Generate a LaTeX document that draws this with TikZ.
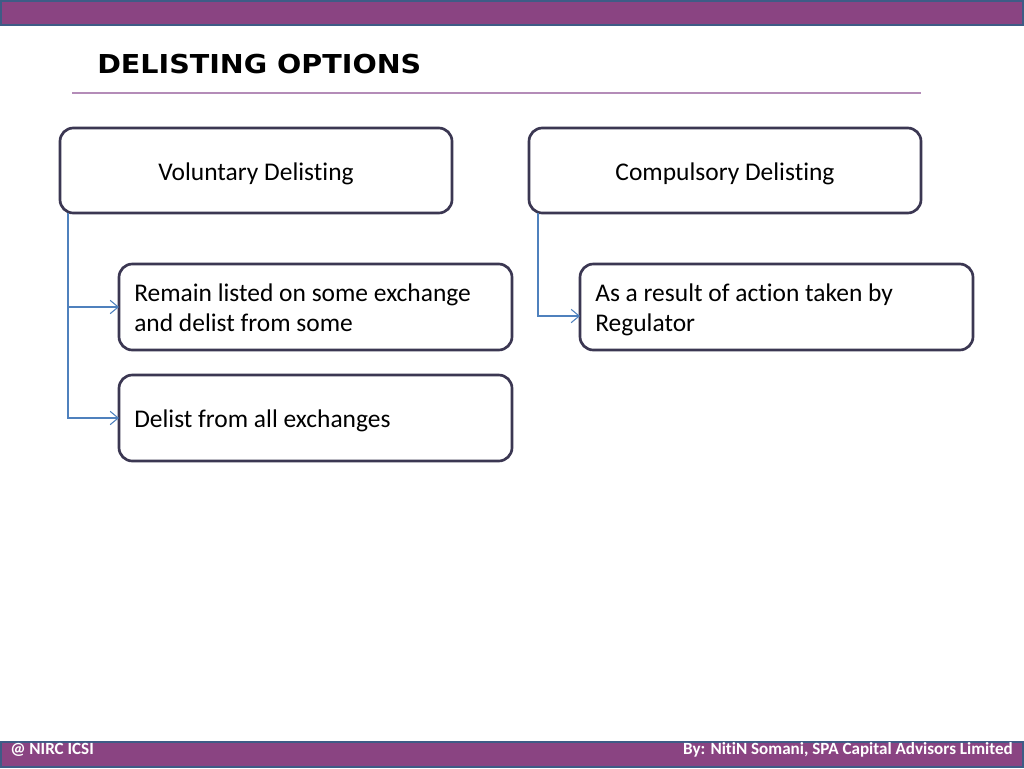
\documentclass[tikz,border=0pt]{standalone}
\usepackage{fontspec}
\setmainfont{Carlito}[RawFeature={-liga}]
\newfontfamily\titlefont{DejaVu Sans}
\usetikzlibrary{arrows.meta}
\definecolor{barpurple}{HTML}{8A4482}
\definecolor{barborder}{HTML}{3E5C86}
\definecolor{boxborder}{HTML}{3B3752}
\definecolor{linkblue}{HTML}{4F81BD}
\definecolor{ruleline}{HTML}{B48CB8}
\tikzset{
  card/.style={draw=boxborder, line width=2pt, rounded corners=10pt, fill=white},
  cardtext/.style={font=\fontsize{19.1}{22.5}\selectfont, text=black},
  link/.style={draw=linkblue, line width=0.9pt, -{Straight Barb[length=6pt,width=10pt,line width=0.8pt]}},
  bar/.style={fill=barpurple, draw=barborder, line width=1.5pt},
  foot/.style={inner sep=0, text=white, font=\bfseries\fontsize{12.8}{15}\selectfont},
}
\begin{document}
\begin{tikzpicture}[x=0.75pt,y=-0.75pt]
\useasboundingbox (0,0) rectangle (1024,768);
\fill[white] (0,0) rectangle (1024,768);
% top and bottom bars
\path[bar] (1,1) rectangle (1023,25);
\path[bar] (1,742) rectangle (1023,767);
% title
\node[anchor=base west, inner sep=0, font=\titlefont\bfseries] (title) at (97,73)
  {\resizebox{243pt}{14.5pt}{DELISTING OPTIONS}};
\draw[ruleline, line width=1pt] (72,93) -- (921,93);
% boxes
\path[card] (60,128) rectangle (452,213);
\path[card] (529,128) rectangle (921,213);
\path[card] (119,264) rectangle (512,350);
\path[card] (119,375) rectangle (512,461);
\path[card] (580,264) rectangle (973,350);
\coordinate (volB) at (68,213);
\coordinate (compB) at (538,213);
\coordinate (remain) at (119,307);
\coordinate (all) at (119,418);
\coordinate (reg) at (580,316);
\node[cardtext, anchor=center] (volt) at (256,174) {Voluntary Delisting};
\node[cardtext, anchor=center] (compt) at (725,174) {Compulsory Delisting};
\node[cardtext, anchor=base west, inner sep=0, align=left] (remt) at (134,331)
  {Remain listed on some exchange\\and delist from some};
\node[cardtext, anchor=base west, inner sep=0] (allt) at (134,427) {Delist from all exchanges};
\node[cardtext, anchor=base west, inner sep=0, align=left] (regt) at (595,331)
  {As a result of action taken by\\Regulator};
% connectors
\draw[link] (volB) |- (remain);
\draw[link] (volB) |- (all);
\draw[link] (compB) |- (reg);
% footer
\node[foot, anchor=base west] (fl) at (10,754) {@ NIRC ICSI};
\node[foot, anchor=base east] (fr) at (1013,754) {By: NitiN Somani, SPA Capital Advisors Limited};
\end{tikzpicture}
\end{document}
